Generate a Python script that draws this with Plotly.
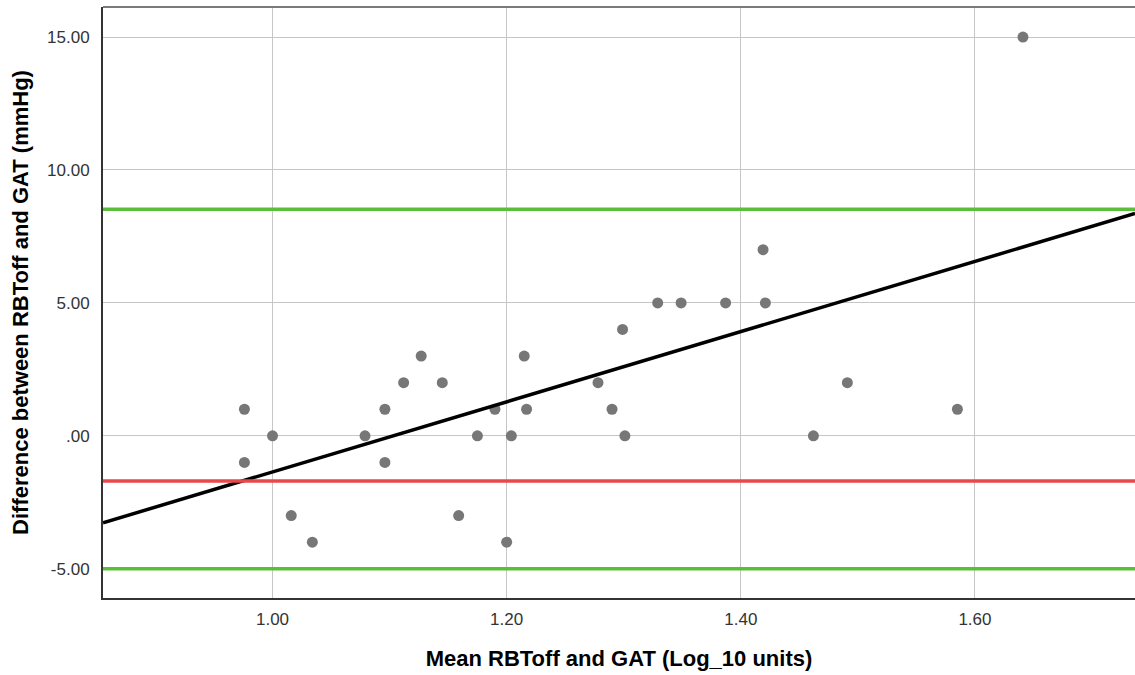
import plotly.graph_objects as go

# Bland-Altman style scatter: mean of the two methods vs. their difference
mean_log10 = [0.976, 0.976, 1.000, 1.016, 1.034, 1.079, 1.096, 1.096, 1.112, 1.127,
              1.145, 1.159, 1.175, 1.190, 1.200, 1.204, 1.215, 1.217, 1.278, 1.290,
              1.299, 1.301, 1.329, 1.349, 1.387, 1.419, 1.421, 1.462, 1.491, 1.585,
              1.641]
difference = [1, -1, 0, -3, -4, 0, 1, -1, 2, 3,
              2, -3, 0, 1, -4, 0, 3, 1, 2, 1,
              4, 0, 5, 5, 5, 7, 5, 0, 2, 1,
              15]

# Reference lines
upper_limit = 8.52
lower_limit = -5.0
red_line = -1.70

# Fitted trend line: difference = intercept + slope * mean
fit_intercept = -14.56
fit_slope = 13.2

x_range = [0.8552, 1.7367]
y_range = [-6.10, 16.13]

y_ticks = [-5, 0, 5, 10, 15]
y_ticktext = ["-5.00", ".00", "5.00", "10.00", "15.00"]
x_ticks = [1.0, 1.2, 1.4, 1.6]
x_ticktext = ["1.00", "1.20", "1.40", "1.60"]

fit_x = x_range
fit_y = [fit_intercept + fit_slope * v for v in fit_x]

fig = go.Figure()

fig.add_trace(go.Scatter(
    x=mean_log10, y=difference, mode="markers",
    marker=dict(size=11, color="#777777", line=dict(width=0)),
    showlegend=False, hoverinfo="x+y",
))

fig.add_trace(go.Scatter(
    x=fit_x, y=fit_y, mode="lines",
    line=dict(color="#000000", width=3.5),
    showlegend=False, hoverinfo="skip",
))

for yv, col in [(upper_limit, "#5BBE3B"), (lower_limit, "#5BBE3B"), (red_line, "#E8484B")]:
    fig.add_shape(type="line", xref="paper", yref="y", x0=0, x1=1, y0=yv, y1=yv,
                  line=dict(color=col, width=3.5), layer="above")

# top frame line
fig.add_shape(type="line", xref="paper", yref="paper", x0=0, x1=1, y0=1, y1=1,
              line=dict(color="#7a7a7a", width=2))

font_family = "Liberation Sans, Arial, sans-serif"

fig.update_layout(
    width=1135, height=675,
    margin=dict(l=103, r=0, t=7, b=77),
    paper_bgcolor="white", plot_bgcolor="white",
    font=dict(family=font_family, size=17, color="#333333"),
    xaxis=dict(
        range=x_range, tickvals=x_ticks, ticktext=x_ticktext,
        showgrid=True, gridcolor="#c6c6c6", gridwidth=1.3,
        zeroline=False, showline=True, linecolor="#333333", linewidth=2,
        ticks="", ticklabelstandoff=5,
        title=dict(text="<b>Mean RBToff and GAT (Log_10 units)</b>",
                   font=dict(size=22, color="#000000"), standoff=22),
    ),
    yaxis=dict(
        range=y_range, tickvals=y_ticks, ticktext=y_ticktext,
        showgrid=True, gridcolor="#c6c6c6", gridwidth=1.3,
        zeroline=False, showline=True, linecolor="#333333", linewidth=2,
        ticks="", ticklabelstandoff=8,
        title=dict(text="<b>Difference between RBToff and GAT (mmHg)</b>",
                   font=dict(size=22, color="#000000"), standoff=12),
    ),
)

fig.write_html("out.html")
